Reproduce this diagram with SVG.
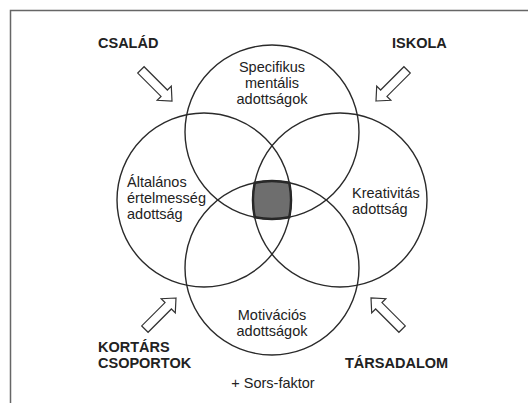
<svg xmlns="http://www.w3.org/2000/svg" width="528" height="403" viewBox="0 0 528 403">
<style>
  .c { fill: none; stroke: #2a2a2a; stroke-width: 1.4; }
  .lbl { font-family: "Liberation Sans", Arial, sans-serif; font-size: 14.5px; fill: #222; }
  .b { font-weight: bold; }
  .mid { text-anchor: middle; }
  .arr { fill: #fff; stroke: #333; stroke-width: 1.2; stroke-linejoin: miter; }
</style>
<defs>
  <polygon id="arrow" points="0,0 -11,-10 -11,-4.5 -44,-4.5 -44,4.5 -11,4.5 -11,10"/>
</defs>
<rect x="0" y="0" width="528" height="403" fill="#fff"/>
<rect x="10.5" y="10.5" width="600" height="600" fill="#fff" stroke="#666" stroke-width="1.5"/>

<g id="core">
  <path d="M254.7,182.7 A87,87 0 0 1 289.3,182.7 A87,87 0 0 1 289.3,217.3 A87,87 0 0 1 254.7,217.3 A87,87 0 0 1 254.7,182.7 Z" fill="#6e6e6e" stroke="#222" stroke-width="2.4"/>
</g>

<g id="specifikus">
  <circle class="c" cx="272" cy="132" r="87"/>
  <text class="lbl mid" x="272" y="72">Specifikus</text>
  <text class="lbl mid" x="272" y="88">mentális</text>
  <text class="lbl mid" x="272" y="104">adottságok</text>
</g>
<g id="altalanos">
  <circle class="c" cx="204" cy="200" r="87"/>
  <text class="lbl" x="127" y="187">Általános</text>
  <text class="lbl" x="127" y="203">értelmesség</text>
  <text class="lbl" x="127" y="219">adottság</text>
</g>
<g id="kreativitas">
  <circle class="c" cx="340" cy="200" r="87"/>
  <text class="lbl" x="352" y="198">Kreativitás</text>
  <text class="lbl" x="352" y="214">adottság</text>
</g>
<g id="motivacios">
  <circle class="c" cx="272" cy="268" r="87"/>
  <text class="lbl mid" x="272" y="320">Motivációs</text>
  <text class="lbl mid" x="272" y="336">adottságok</text>
</g>

<g id="csalad">
  <text class="lbl b" x="98" y="48">CSALÁD</text>
</g>
<g id="iskola">
  <text class="lbl b" x="392" y="48">ISKOLA</text>
</g>
<g id="kortars">
  <text class="lbl b" x="98" y="352">KORTÁRS</text>
  <text class="lbl b" x="98" y="368">CSOPORTOK</text>
</g>
<g id="tarsadalom">
  <text class="lbl b" x="345" y="368">TÁRSADALOM</text>
</g>
<g id="sors">
  <text class="lbl mid" x="273" y="388">+ Sors-faktor</text>
</g>

<g id="connectors">
  <use href="#arrow" class="arr" transform="translate(172,101) rotate(45)"/>
  <use href="#arrow" class="arr" transform="translate(376,101) rotate(135)"/>
  <use href="#arrow" class="arr" transform="translate(176,298) rotate(-45)"/>
  <use href="#arrow" class="arr" transform="translate(371,298) rotate(-135)"/>
</g>
</svg>
